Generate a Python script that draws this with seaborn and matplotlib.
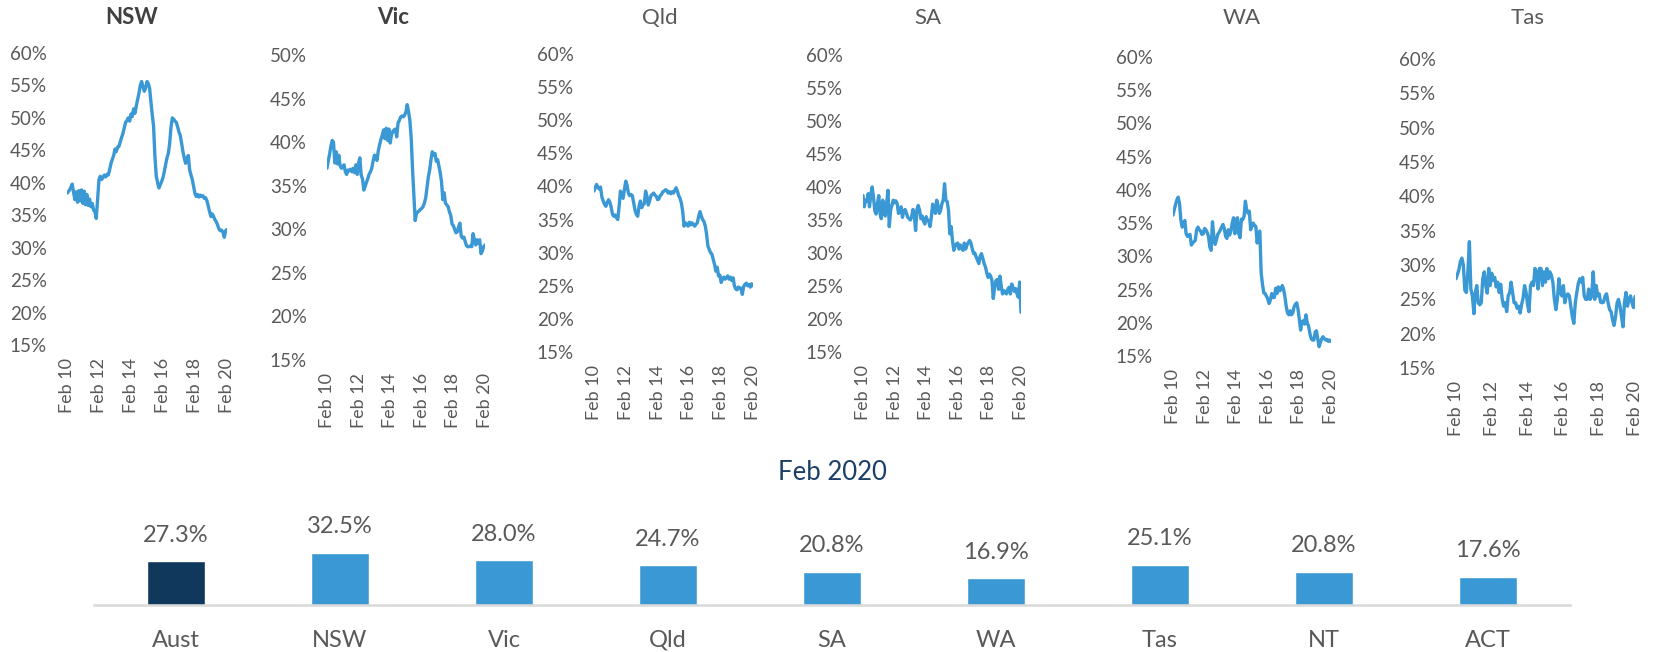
import numpy as np
import pandas as pd
import matplotlib
matplotlib.use("Agg")
import matplotlib.pyplot as plt
import matplotlib.dates as mdates
from matplotlib.ticker import FuncFormatter
import seaborn as sns

# Monthly share (%), Feb 2010 .. Feb 2020
nsw = [38.4, 38.6, 38.9, 39.3, 39.8, 38.5, 37.4, 38.6, 37.0, 38.8, 37.2,
       38.9, 36.8, 38.7, 36.6, 38.2, 36.5, 37.5, 36.3, 36.8, 35.8,
       35.5, 34.5, 37.5, 40.5, 41.0, 40.5, 40.8, 41.2, 40.9, 41.3,
       41.2, 42.0, 43.0, 43.6, 44.2, 45.2, 44.8, 45.5, 45.6, 46.3,
       47.0, 47.6, 48.5, 49.3, 49.6, 50.0, 49.5, 50.6, 50.2, 51.4,
       50.7, 51.8, 52.8, 53.8, 55.0, 55.6, 54.8, 54.1, 54.6, 55.6,
       55.3, 54.6, 52.5, 50.5, 48.7, 44.0, 41.0, 40.0, 39.2, 39.7,
       40.2, 40.8, 41.7, 42.8, 43.8, 44.5, 46.0, 48.5, 50.0, 49.8,
       49.5, 49.3, 48.6, 47.8, 47.3, 46.1, 44.8, 43.8, 43.0, 43.8,
       44.2, 42.0, 41.2, 40.5, 39.4, 38.3, 37.9, 38.2, 37.8, 38.1,
       37.9, 38.0, 37.6, 37.7, 37.2, 36.4, 35.5, 34.8, 35.2, 34.8,
       34.3, 34.0, 33.5, 32.9, 32.6, 32.7, 32.4, 31.6, 32.6, 32.8]
vic = [37.0, 37.8, 38.6, 39.5, 40.2, 40.0, 37.6, 38.9, 37.5, 38.5, 37.3,
       37.0, 37.2, 37.4, 36.6, 36.3, 36.8, 36.7, 36.9, 36.6, 37.0,
       36.5, 37.4, 36.3, 37.6, 38.2, 36.2, 35.8, 34.5, 34.9, 35.4,
       35.8, 36.3, 36.6, 37.0, 37.8, 38.5, 38.4, 37.9, 39.0, 39.7,
       40.3, 40.8, 41.4, 40.4, 41.6, 40.2, 41.5, 39.9, 40.8, 41.2,
       41.4, 41.5, 40.6, 42.2, 42.5, 42.9, 43.0, 42.9, 43.1, 43.5,
       44.3, 43.5, 42.5, 40.5, 37.0, 34.0, 31.0, 31.8, 32.0, 32.1,
       32.3, 32.4, 32.6, 33.0, 33.6, 34.8, 36.0, 36.8, 38.0, 38.9,
       38.5, 38.7, 37.8, 38.0, 37.3, 36.5, 35.5, 33.4, 34.2, 33.0,
       32.8, 32.6, 32.0, 31.6, 30.6, 30.4, 30.0, 29.6, 29.7, 30.3,
       30.7, 29.2, 29.0, 29.1, 28.6, 28.1, 28.0, 28.0, 28.1, 28.0,
       29.5, 28.8, 28.2, 28.8, 28.4, 28.8, 27.2, 27.5, 28.0, 28.2]
qld = [39.3, 39.8, 40.3, 39.9, 39.6, 39.9, 38.4, 37.8, 37.3, 37.0, 37.6,
       38.0, 37.6, 36.9, 35.8, 35.5, 35.7, 35.3, 35.0, 37.0, 39.3,
       38.4, 38.2, 39.6, 40.8, 40.2, 39.0, 38.6, 38.8, 38.6, 37.5,
       36.4, 35.8, 35.5, 37.0, 37.8, 36.8, 37.2, 37.4, 39.3, 38.5,
       37.2, 37.8, 38.6, 38.8, 39.0, 38.7, 38.5, 38.0, 38.1, 38.6,
       38.8, 39.2, 39.3, 39.5, 39.4, 39.0, 39.2, 38.9, 39.2, 39.0,
       39.4, 39.8, 39.3, 38.6, 38.2, 37.5, 36.2, 34.0, 34.5, 34.3,
       34.0, 34.6, 34.2, 34.5, 34.3, 34.0, 34.3, 34.5, 35.5, 36.2,
       35.5, 35.0, 34.7, 34.0, 32.8, 31.0, 30.5, 30.0, 29.8, 29.0,
       28.2, 27.2, 27.8, 26.5, 26.6, 25.5, 26.0, 26.3, 26.0, 26.2,
       26.5, 26.0, 26.3, 25.8, 26.2, 25.0, 24.5, 24.4, 24.8, 24.7,
       24.6, 23.7, 24.9, 25.2, 25.4, 25.0, 25.2, 24.8, 25.3, 25.0]
sa = [38.7, 37.0, 38.0, 37.8, 39.0, 37.0, 38.8, 40.0, 38.5, 36.4, 35.9,
      37.5, 38.7, 36.0, 35.2, 38.0, 37.5, 35.6, 37.5, 39.5, 34.0,
      36.5, 37.2, 38.0, 37.6, 37.9, 37.5, 36.0, 36.4, 37.0, 35.4,
      36.4, 36.6, 36.0, 35.4, 35.2, 35.0, 35.5, 36.6, 35.8, 33.4,
      36.6, 37.2, 36.5, 35.2, 35.6, 34.8, 34.4, 35.5, 35.0, 34.8,
      34.0, 35.5, 37.4, 37.0, 36.0, 38.0, 37.2, 36.0, 36.5, 37.5,
      38.0, 40.5, 38.0, 37.8, 36.5, 32.9, 34.0, 31.9, 30.4, 31.0,
      31.4, 31.5, 30.6, 31.2, 30.8, 30.4, 31.5, 30.6, 31.2, 31.6,
      31.9, 31.5, 30.6, 29.9, 30.0, 29.4, 28.9, 28.4, 29.5, 29.9,
      29.2, 28.4, 27.9, 27.0, 26.3, 26.8, 26.5, 25.8, 23.1, 24.8,
      25.8, 26.0, 24.5, 26.5, 25.0, 23.8, 24.3, 24.0, 23.8, 24.5,
      24.8, 23.8, 25.3, 24.8, 24.2, 24.6, 23.8, 23.3, 25.6, 21.0]
wa = [36.2, 37.0, 37.8, 38.5, 38.9, 38.0, 35.5, 34.4, 34.8, 35.4, 33.4,
      33.0, 33.2, 33.3, 31.7, 32.0, 32.2, 32.4, 34.0, 34.4, 34.0,
      33.8, 33.3, 33.4, 34.2, 34.0, 33.6, 33.0, 31.4, 30.9, 35.2,
      33.0, 31.8, 32.5, 33.3, 33.6, 34.0, 34.4, 34.8, 34.2, 33.0,
      32.7, 34.0, 33.2, 33.8, 35.0, 35.8, 33.4, 35.5, 35.8, 33.4,
      32.8, 35.6, 35.5, 36.0, 38.3, 37.0, 36.5, 36.8, 34.0, 34.8,
      35.0, 34.6, 34.5, 32.0, 33.5, 33.8, 27.5, 25.8, 24.5, 24.4,
      24.0, 23.6, 22.9, 23.4, 24.4, 23.8, 23.8, 25.2, 24.4, 25.4,
      24.8, 25.0, 25.6, 25.0, 24.0, 22.5, 21.5, 21.2, 21.8, 21.2,
      21.5, 22.4, 22.8, 23.0, 22.0, 20.4, 18.9, 20.2, 20.3, 19.8,
      21.2, 20.0, 19.5, 18.4, 17.6, 17.4, 17.4, 18.6, 18.8, 17.6,
      16.4, 17.0, 17.6, 17.9, 17.6, 17.4, 17.5, 17.2, 17.4, 17.2]
tas = [28.0, 28.6, 29.3, 30.5, 31.0, 30.0, 26.3, 26.0, 29.0, 33.4, 26.5,
       25.5, 22.9, 26.0, 27.0, 24.5, 24.2, 24.5, 28.0, 29.0, 27.0,
       25.9, 29.5, 27.0, 28.8, 27.8, 28.2, 26.8, 27.5, 26.0, 27.2,
       25.0, 24.0, 24.5, 23.2, 25.5, 26.0, 27.5, 26.0, 24.5, 24.5,
       23.7, 24.0, 23.0, 24.2, 25.2, 27.0, 26.0, 24.2, 23.2, 27.0,
       27.5, 27.0, 29.5, 29.0, 26.5, 29.5, 29.5, 27.0, 29.0, 27.5,
       29.5, 28.0, 29.0, 28.5, 27.5, 25.0, 23.5, 25.0, 28.0, 26.0,
       25.5, 27.0, 24.5, 25.5, 25.8, 25.5, 24.0, 22.5, 21.5, 24.5,
       26.0, 27.3, 28.0, 27.5, 28.2, 25.5, 25.0, 25.0, 26.5, 25.0,
       25.5, 29.0, 25.0, 27.0, 25.5, 25.8, 24.6, 24.5, 24.6, 25.5,
       25.8, 24.5, 23.5, 23.2, 22.0, 21.2, 22.5, 24.5, 25.0, 24.0,
       22.5, 21.0, 24.5, 26.0, 24.0, 25.0, 25.5, 24.5, 23.8, 25.4]

states = ["NSW", "Vic", "Qld", "SA", "WA", "Tas"]
series = [nsw, vic, qld, sa, wa, tas]
y_tops = [0.60, 0.50, 0.60, 0.60, 0.60, 0.60]
title_bold = [True, True, False, False, False, False]

# Feb 2020 snapshot
bar_labels = ["Aust", "NSW", "Vic", "Qld", "SA", "WA", "Tas", "NT", "ACT"]
bar_values = [27.3, 32.5, 28.0, 24.7, 20.8, 16.9, 25.1, 20.8, 17.6]
bar_title = "Feb 2020"

dates = pd.date_range("2010-02-01", "2020-02-01", freq="MS")

LINE = "#3A98D4"
NAVY = "#10375C"
GREY = "#595959"

sns.set_theme(style="white")
plt.rcParams["font.family"] = ["Lato", "DejaVu Sans"]

W, H = 1656, 652
fig = plt.figure(figsize=(W / 100, H / 100), dpi=100)


def rect(x0, x1, ytop, ybot):
    return [x0 / W, 1 - ybot / H, (x1 - x0) / W, (ybot - ytop) / H]


# panel geometry in pixels: left, right, top (max tick), bottom (15%), title centre
panels = [
    (67, 227, 53, 345, 132),
    (327, 485, 55, 360, 393),
    (594, 753, 54, 352, 660),
    (863, 1021, 55, 352, 928),
    (1173, 1331, 57, 356, 1242),
    (1456, 1635, 59, 368, 1528),
]

pct = FuncFormatter(lambda v, _: f"{v:.0%}")

for name, vals, ytop, bold, (x0, x1, yt, yb, tx) in zip(
        states, series, y_tops, title_bold, panels):
    ax = fig.add_axes(rect(x0, x1, yt, yb))
    df = pd.DataFrame({"date": dates, "share": np.array(vals) / 100})
    sns.lineplot(data=df, x="date", y="share", ax=ax, color=LINE,
                 linewidth=2.4)
    ax.set_xlim(dates[0], dates[-1])
    ax.set_ylim(0.15, ytop)
    ax.set_yticks(np.arange(0.15, ytop + 0.001, 0.05))
    ax.yaxis.set_major_formatter(pct)
    ax.set_xticks(pd.date_range("2010-02-01", "2020-02-01", freq="24MS"))
    ax.xaxis.set_major_formatter(mdates.DateFormatter("%b %y"))
    ax.tick_params(axis="y", length=0, pad=14.5, labelsize=13.5,
                   labelcolor=GREY)
    ax.tick_params(axis="x", length=0, pad=9, labelsize=13,
                   labelcolor=GREY, labelrotation=90)
    ax.set_xlabel("")
    ax.set_ylabel("")
    for s in ax.spines.values():
        s.set_visible(False)
    ax.patch.set_alpha(0)
    fig.text(tx / W, 1 - 18 / H, name, ha="center", va="center",
             fontsize=16, color="#404040" if bold else GREY,
             fontweight="bold" if bold else "normal")

# bar chart of the latest month
bx = fig.add_axes(rect(94, 1570, 605 - 1.61 * 40, 605))
bdf = pd.DataFrame({"region": bar_labels, "value": bar_values})
palette = [NAVY] + [LINE] * (len(bar_labels) - 1)
sns.barplot(data=bdf, x="region", y="value", hue="region", palette=palette,
            legend=False, width=0.35, ax=bx, saturation=1)
bx.set_ylim(0, 40)
bx.set_xlim(-0.5, len(bar_labels) - 0.5)
for i, v in enumerate(bar_values):
    bx.annotate(f"{v:.1f}%", (i, v), xytext=(0, 11), textcoords="offset points",
                ha="center", va="bottom", fontsize=17, color=GREY,
                annotation_clip=False)
bx.set_yticks([])
bx.set_xlabel("")
bx.set_ylabel("")
bx.tick_params(axis="x", length=0, pad=18, labelsize=17, labelcolor=GREY)
for k in ("top", "right", "left"):
    bx.spines[k].set_visible(False)
bx.spines["bottom"].set_color("#D9D9D9")
bx.spines["bottom"].set_linewidth(1.8)
bx.patch.set_alpha(0)
fig.text(832 / W, 1 - 472 / H, bar_title, ha="center", va="center",
         fontsize=18.5, color="#1B3F66")

fig.savefig("out.png", dpi=100)
